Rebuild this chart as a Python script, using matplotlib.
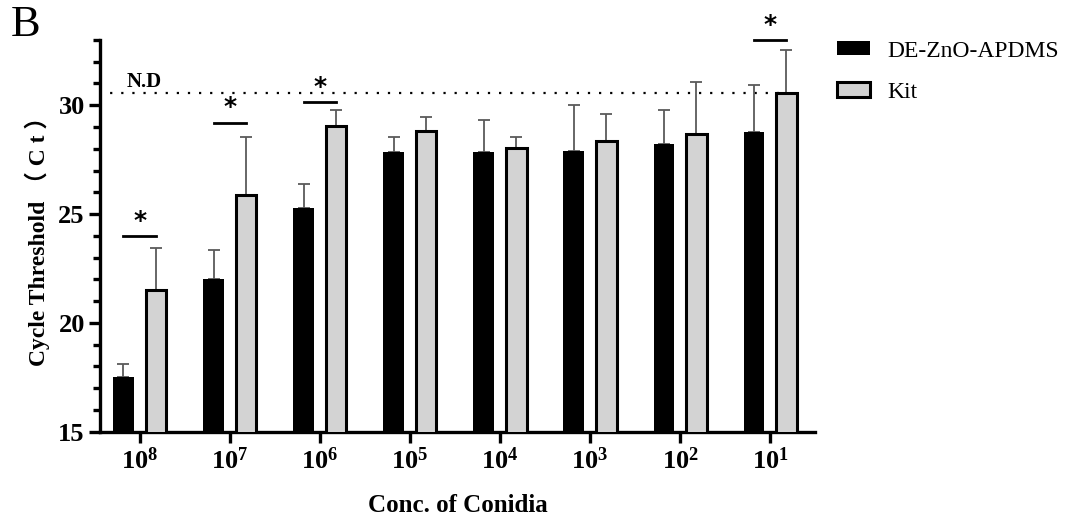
import numpy as np
import matplotlib
matplotlib.use('Agg')
import matplotlib.pyplot as plt
from matplotlib.patches import Patch
from matplotlib.ticker import MultipleLocator

# data
conc_labels = ['$\\mathbf{10^{8}}$', '$\\mathbf{10^{7}}$', '$\\mathbf{10^{6}}$', '$\\mathbf{10^{5}}$',
               '$\\mathbf{10^{4}}$', '$\\mathbf{10^{3}}$', '$\\mathbf{10^{2}}$', '$\\mathbf{10^{1}}$']
zno_ct = [17.5, 22.0, 25.3, 27.85, 27.85, 27.9, 28.22, 28.76]
zno_err = [0.6, 1.36, 1.1, 0.68, 1.48, 2.1, 1.55, 2.18]
kit_ct = [21.5, 25.88, 29.03, 28.8, 28.02, 28.37, 28.66, 30.56]
kit_err = [1.95, 2.65, 0.75, 0.67, 0.54, 1.22, 2.43, 1.99]
nd_level = 30.55
# significance marks: category index, height of bar line
sig_idx = [0, 1, 2, 7]
sig_y = [24.0, 29.2, 30.15, 32.98]

plt.rcParams['font.family'] = ['Liberation Serif', 'DejaVu Serif']
plt.rcParams['mathtext.fontset'] = 'custom'
plt.rcParams['mathtext.rm'] = 'Liberation Serif'
plt.rcParams['mathtext.bf'] = 'Liberation Serif:bold'

fig = plt.figure(figsize=(10.77, 5.26), dpi=100)
ax = fig.add_axes([0.0929, 0.1793, 0.664, 0.7447])

x = np.arange(len(conc_labels))
w = 0.23
off = 0.18
ax.bar(x - off, zno_ct, width=w, color='black', edgecolor='black', linewidth=0, zorder=3)
ax.bar(x + off, kit_ct, width=w, color='#d3d3d3', edgecolor='black', linewidth=2.2, zorder=3)
ax.errorbar(x - off, zno_ct, yerr=[np.zeros(len(x)), zno_err], fmt='none', ecolor='#5a5a5a',
            elinewidth=1.3, capsize=4, capthick=1.3, zorder=2)
ax.errorbar(x + off, kit_ct, yerr=[np.zeros(len(x)), kit_err], fmt='none', ecolor='#5a5a5a',
            elinewidth=1.3, capsize=4, capthick=1.3, zorder=2)

# N.D line
ax.plot([-0.45, 7 + off], [nd_level, nd_level], linestyle=(0, (1, 4)), color='black',
        linewidth=1.6, zorder=1)
ax.text(0.05, nd_level + 0.05, 'N.D', fontsize=15, fontweight='bold', ha='center', va='bottom')

for i, yy in zip(sig_idx, sig_y):
    ax.plot([i - off, i + off], [yy, yy], color='black', linewidth=2, clip_on=False)
    ax.text(i, yy + 0.15, '*', fontsize=18, fontweight='bold', ha='center', va='bottom',
            family='DejaVu Sans', clip_on=False)

ax.set_ylim(15, 33)
ax.set_xlim(-0.44, 7.5)
ax.set_yticks([15, 20, 25, 30])
ax.yaxis.set_minor_locator(MultipleLocator(1))
ax.set_xticks(x)
ax.set_xticklabels(conc_labels, fontsize=19)
for lab in ax.get_yticklabels():
    lab.set_fontsize(19)
    lab.set_fontweight('bold')

for s in ['top', 'right']:
    ax.spines[s].set_visible(False)
for s in ['left', 'bottom']:
    ax.spines[s].set_linewidth(2.4)
ax.tick_params(axis='y', which='major', length=8, width=2.4, pad=3)
ax.tick_params(axis='y', which='minor', length=5, width=2.4)
ax.tick_params(axis='x', which='major', length=8, width=2.4, pad=3)

ax.set_ylabel('Cycle Threshold （ C t ）', fontsize=17, fontweight='bold', labelpad=6,
              family=['Liberation Serif', 'Noto Sans CJK SC'])
ax.set_xlabel('Conc. of Conidia', fontsize=18, fontweight='bold', labelpad=15)

fig.text(0.01, 0.99, 'B', fontsize=32, ha='left', va='top')

handles = [Patch(facecolor='black', edgecolor='black', linewidth=0),
           Patch(facecolor='#d3d3d3', edgecolor='black', linewidth=2.2)]
fig.legend(handles, ['DE-ZnO-APDMS', 'Kit'], loc='upper left', bbox_to_anchor=(0.766, 0.945),
           frameon=False, fontsize=17, borderpad=0, handlelength=1.4, handleheight=0.55,
           handletextpad=0.75, labelspacing=0.85)

fig.savefig('out.png', dpi=100)
